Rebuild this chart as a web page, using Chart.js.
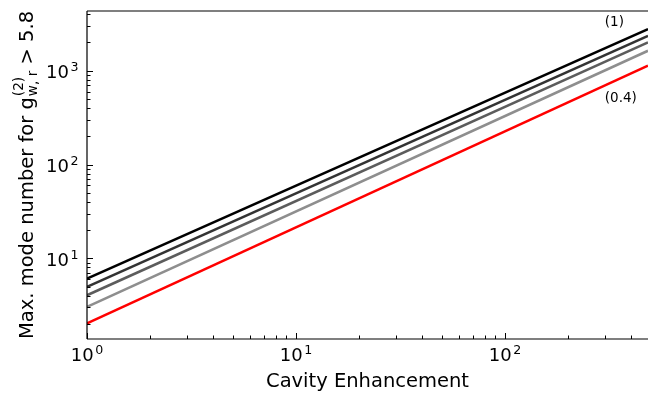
<!DOCTYPE html>
<html><head><meta charset="utf-8">
<script src="https://cdn.jsdelivr.net/npm/chart.js@4/dist/chart.umd.min.js"></script>
<style>html,body{margin:0;padding:0;background:#fff}#wrap{width:648px;height:394px}</style>
</head><body><div id="wrap"><canvas id="c" width="648" height="394"></canvas></div>
<script>
// ---- data ----
const enhancement = [1, 483];
const series1   = [6.08, 2780];
const series2   = [4.95, 2357];
const series3   = [4.04, 2000];
const series4   = [3.03, 1632];
const series04  = [2.02, 1130];
const seriesLabels = ['(1)', 'b', 'c', 'd', '(0.4)'];
const seriesColors = ['#000000', '#333333', '#5c5c5c', '#8e8e8e', '#ff0000'];
const xTickExponents = [0, 1, 2];
const yTickExponents = [1, 2, 3];
const annotationTexts = ['(1)', '(0.4)'];
const annotationX = [300, 300];
const annotationY = [3270, 500];
const xTitle = 'Cavity Enhancement';
const yTitleMain = 'Max. mode number for g';
const yTitleSup = '(2)';
const yTitleSub = 'w, r';
const yTitleTail = ' > 5.8';

const FONT = '"DejaVu Sans", Verdana, sans-serif';
const allSeries = [series1, series2, series3, series4, series04];

function drawPow(ctx, exp, x, y, align, F) {
  ctx.font = F + 'px ' + FONT;
  const wb = ctx.measureText('10').width;
  const Fs = F * 0.7;
  const gap = 1.5;
  ctx.font = Fs + 'px ' + FONT;
  const we = ctx.measureText(String(exp)).width;
  const total = wb + we + gap;
  const x0 = align === 'center' ? x - total / 2 : align === 'right' ? x - total : x;
  ctx.textAlign = 'left'; ctx.textBaseline = 'alphabetic';
  ctx.font = F + 'px ' + FONT; ctx.fillText('10', x0, y);
  ctx.font = Fs + 'px ' + FONT; ctx.fillText(String(exp), x0 + wb + gap, y - F * 0.38);
}

const axesPlugin = {
  id: 'axesPlugin',
  afterDraw(chart) {
    const ctx = chart.ctx, a = chart.chartArea;
    const xs = chart.scales.x, ys = chart.scales.y;
    ctx.save();
    ctx.strokeStyle = '#000'; ctx.fillStyle = '#000';
    // spines
    ctx.lineWidth = 1.2;
    ctx.beginPath();
    ctx.moveTo(a.left, a.top); ctx.lineTo(a.right + 2, a.top);
    ctx.moveTo(a.left, a.top); ctx.lineTo(a.left, a.bottom);
    ctx.moveTo(a.left, a.bottom); ctx.lineTo(a.right + 2, a.bottom);
    ctx.stroke();
    // ticks (inward)
    ctx.lineWidth = 1;
    ctx.beginPath();
    for (let e = 0; e <= 3; e++) {
      for (let k = 1; k <= 9; k++) {
        const v = k * Math.pow(10, e);
        if (v >= xs.min && v <= xs.max) {
          const px = Math.round(xs.getPixelForValue(v)) + 0.5;
          const len = k === 1 ? 6 : 3.5;
          ctx.moveTo(px, a.bottom); ctx.lineTo(px, a.bottom - len);
        }
        if (v >= ys.min && v <= ys.max) {
          const py = Math.round(ys.getPixelForValue(v)) + 0.5;
          const len = k === 1 ? 6 : 3.5;
          ctx.moveTo(a.left, py); ctx.lineTo(a.left + len, py);
        }
      }
    }
    ctx.stroke();
    // tick labels
    const TF = 18;
    xTickExponents.forEach(e => {
      drawPow(ctx, e, xs.getPixelForValue(Math.pow(10, e)), a.bottom + 22, 'center', TF);
    });
    yTickExponents.forEach(e => {
      drawPow(ctx, e, a.left - 8.5, ys.getPixelForValue(Math.pow(10, e)) + 7.5, 'right', TF);
    });
    // x title
    const LF = 19.5;
    ctx.font = LF + 'px ' + FONT;
    ctx.textAlign = 'center'; ctx.textBaseline = 'alphabetic';
    ctx.fillText(xTitle, (a.left + a.right) / 2, 387);
    // y title (rotated)
    ctx.save();
    const cy = (a.top + a.bottom) / 2;
    ctx.translate(33, cy);
    ctx.rotate(-Math.PI / 2);
    ctx.textAlign = 'left';
    ctx.font = LF + 'px ' + FONT;
    const w1 = ctx.measureText(yTitleMain).width;
    const w3 = ctx.measureText(yTitleTail).width;
    ctx.font = (LF * 0.7) + 'px ' + FONT;
    const wsup = ctx.measureText(yTitleSup).width;
    const wsub = ctx.measureText(yTitleSub).width;
    const w2 = Math.max(wsup, wsub) + 1;
    const total = w1 + w2 + w3;
    let u = -total / 2;
    ctx.font = LF + 'px ' + FONT;
    ctx.fillText(yTitleMain, u, 0);
    u += w1;
    ctx.font = (LF * 0.7) + 'px ' + FONT;
    ctx.fillText(yTitleSup, u + 1, -LF * 0.5);
    ctx.fillText(yTitleSub, u + 1, LF * 0.18);
    u += w2;
    ctx.font = LF + 'px ' + FONT;
    ctx.fillText(yTitleTail, u, 0);
    ctx.restore();
    // annotations
    ctx.font = '13.5px ' + FONT;
    ctx.textAlign = 'left'; ctx.textBaseline = 'middle';
    annotationTexts.forEach((t, i) => {
      ctx.fillText(t, xs.getPixelForValue(annotationX[i]), ys.getPixelForValue(annotationY[i]));
    });
    ctx.restore();
  }
};

new Chart(document.getElementById('c').getContext('2d'), {
  type: 'line',
  data: {
    datasets: allSeries.map((s, i) => ({
      label: seriesLabels[i],
      data: enhancement.map((x, j) => ({ x: x, y: s[j] })),
      borderColor: seriesColors[i],
      borderWidth: 2.5,
      pointRadius: 0,
      fill: false,
      tension: 0
    })).reverse()
  },
  options: {
    responsive: false,
    animation: false,
    devicePixelRatio: 1,
    layout: { padding: { left: 87, top: 11, right: 0, bottom: 55 } },
    plugins: { legend: { display: false }, tooltip: { enabled: false } },
    scales: {
      x: { type: 'logarithmic', min: 1, max: 483, display: false },
      y: { type: 'logarithmic', min: 1.38, max: 4330, display: false }
    }
  },
  plugins: [axesPlugin]
});
</script>
</body></html>
